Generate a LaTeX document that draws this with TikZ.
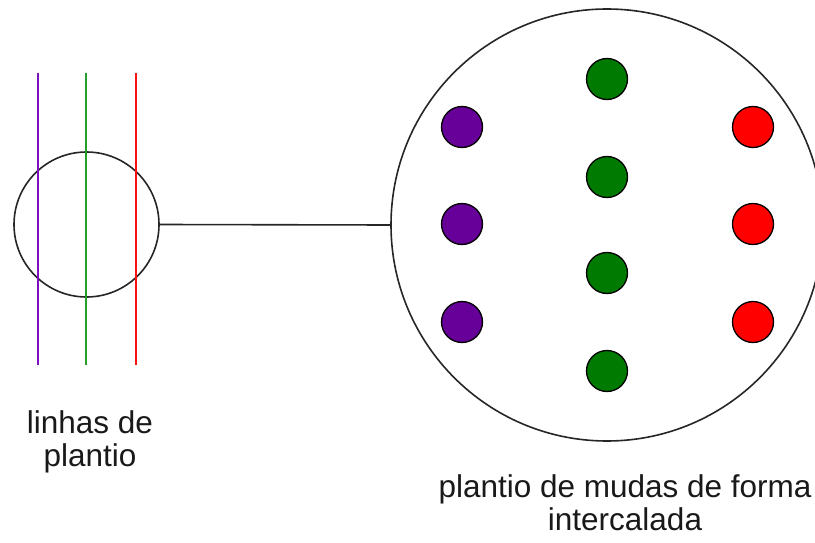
\documentclass[tikz,border=0pt]{standalone}
\usepackage{fontspec}
\setmainfont{Liberation Sans}
\definecolor{dotpurple}{HTML}{660099}
\definecolor{dotgreen}{HTML}{007A00}
\definecolor{dotred}{HTML}{FF0000}
\definecolor{linepurple}{HTML}{7A10C0}
\definecolor{linegreen}{HTML}{22A02A}
\definecolor{linered}{HTML}{FF1010}
\begin{document}
\begin{tikzpicture}[x=1pt,y=-1pt,
  ring/.style={circle,draw=black!85,line width=1.6pt,inner sep=0pt},
  seed/.style={circle,draw=black,line width=1.3pt,minimum size=41pt,inner sep=0pt},
  row/.style={line width=1.6pt},
  lbl/.style={font=\fontsize{31.5}{33}\selectfont,align=center,anchor=base,inner sep=0pt,text=black!90}]
\useasboundingbox (0,0) rectangle (815,543);
% rows of planting
\coordinate (pt) at (38,73);  \coordinate (pb) at (38,365);
\coordinate (gt) at (86,73);  \coordinate (gb) at (86,365);
\coordinate (rt) at (136,73); \coordinate (rb) at (136,365);
\node[ring,minimum size=145pt] (sc) at (86.5,224.5) {};
\draw[row,linepurple] (pt) -- (pb);
\draw[row,linegreen] (gt) -- (gb);
\draw[row,linered] (rt) -- (rb);
% big circle
\node[ring,minimum size=432pt] (bc) at (607,225) {};
\draw[line width=1.6pt,black!85] (sc.east) -- (bc.west);
% seedlings
\node[seed,fill=dotpurple] (p1) at (462,127) {};
\node[seed,fill=dotpurple] (p2) at (462,224) {};
\node[seed,fill=dotpurple] (p3) at (462,322) {};
\node[seed,fill=dotgreen] (g1) at (607,79) {};
\node[seed,fill=dotgreen] (g2) at (607,177) {};
\node[seed,fill=dotgreen] (g3) at (607,273) {};
\node[seed,fill=dotgreen] (g4) at (607,371) {};
\node[seed,fill=dotred] (r1) at (753,127) {};
\node[seed,fill=dotred] (r2) at (753,224) {};
\node[seed,fill=dotred] (r3) at (753,322) {};
% labels
\node[lbl] (l1) at (90,466) {linhas de\\plantio};
\node[lbl] (l2) at (625,530) {plantio de mudas de forma\\intercalada};
\end{tikzpicture}
\end{document}
